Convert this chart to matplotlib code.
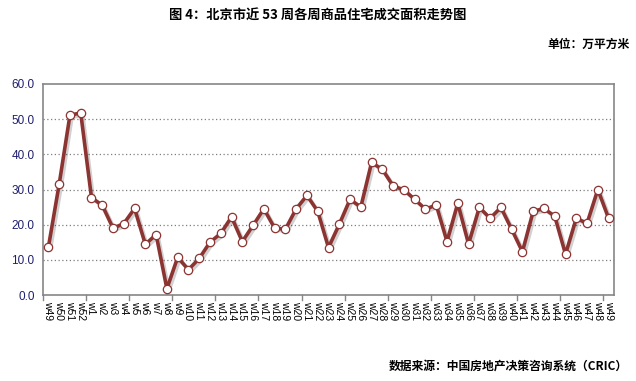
import matplotlib
matplotlib.use("Agg")
import matplotlib.pyplot as plt
import matplotlib.patheffects as pe

plt.rcParams['font.family'] = ['Noto Sans CJK SC', 'DejaVu Sans']

weeks = ["w49", "w50", "w51", "w52"] + [f"w{i}" for i in range(1, 50)]
values = [13.6, 31.5, 51.1, 51.8, 27.7, 25.5, 19.0, 20.3, 24.6, 14.4,
          17.2, 1.8, 10.7, 7.2, 10.4, 15.0, 17.5, 22.2, 15.2, 19.8,
          24.5, 19.0, 18.7, 24.5, 28.3, 23.8, 13.5, 20.1, 27.2, 25.0,
          37.7, 35.7, 31.0, 29.9, 27.2, 24.4, 25.6, 15.2, 26.1, 14.5,
          24.9, 21.8, 24.9, 18.7, 12.3, 23.8, 24.6, 22.4, 11.6, 21.8,
          20.4, 30.0, 21.8]
yticks = [0, 10, 20, 30, 40, 50, 60]

title = "图 4：北京市近 53 周各周商品住宅成交面积走势图"
unit = "单位：万平方米"
source = "数据来源：中国房地产决策咨询系统（CRIC）"

line_color = "#8C3432"
axis_color = "#868686"

fig = plt.figure(figsize=(6.36, 3.81), dpi=100)
ax = fig.add_axes([43/636, 1-295/381, (614-43)/636, (295-84)/381])

x = list(range(len(values)))
ax.plot(x, values, color=line_color, lw=2.6, zorder=3,
        path_effects=[pe.SimpleLineShadow(offset=(1.5, -1.5), shadow_color='black', alpha=0.18),
                      pe.Normal()])
ax.plot(x, values, ls='none', marker='o', ms=6.0, mfc='white', mec=line_color,
        mew=0.9, zorder=4)

ax.set_xlim(-0.5, len(values) - 0.5)
ax.set_ylim(0, 60)
ax.set_yticks(yticks)
ax.set_yticklabels([f"{v:.1f}" for v in yticks], fontsize=8.5, color="#1F1F6E",
                   family=['Liberation Sans', 'DejaVu Sans'])
ax.set_xticks(x)
ax.set_xticklabels(weeks, rotation=270, fontsize=7.5, family=['Liberation Sans', 'DejaVu Sans'])
ax.tick_params(axis='x', length=0, pad=4)
ax.tick_params(axis='y', length=0, pad=6)
# boundary ticks every 4 categories
for b in range(0, len(values), 4):
    ax.plot([b - 0.5, b - 0.5], [0, -1.3], color=axis_color, lw=1, clip_on=False, zorder=1)

for yv in yticks[1:-1]:
    ax.axhline(yv, color="#7F7F7F", lw=0.9, ls=(0, (1, 2)), zorder=1)

for s in ax.spines.values():
    s.set_color(axis_color)
    s.set_linewidth(1.2)

fig.text(0.5, 1-16/381, title, ha='center', va='center', fontsize=9.5, fontweight='bold')
fig.text(630/636, 1-44/381, unit, ha='right', va='center', fontsize=8.5, fontweight='bold')
fig.text(628/636, 1-366/381, source, ha='right', va='center', fontsize=8.5, fontweight='bold')

fig.savefig("out.png", dpi=100)
